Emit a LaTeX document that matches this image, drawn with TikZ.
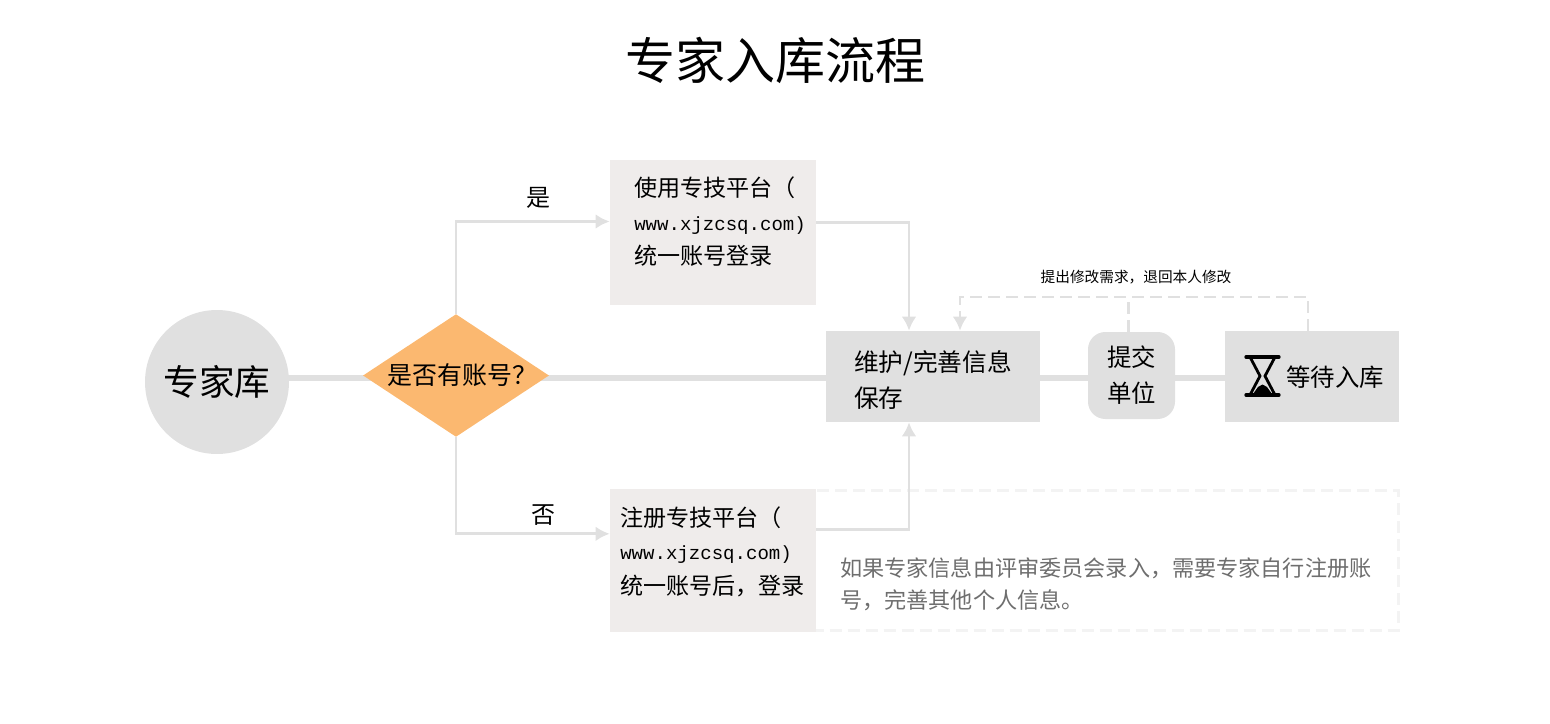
\documentclass[tikz,border=0pt]{standalone}
\usepackage{fontspec}
\setmainfont{Noto Sans CJK SC}
\newfontfamily\urlfont{Liberation Mono}
\usetikzlibrary{shapes.geometric,backgrounds,arrows.meta}
\definecolor{linegray}{HTML}{E0E0E0}
\definecolor{boxgray}{HTML}{EFECEB}
\definecolor{dashgray}{HTML}{F3F3F3}
\definecolor{noteorange}{HTML}{FBB870}
\definecolor{notetext}{HTML}{6E6E6E}
\newcommand{\sz}[2]{\fontsize{#1}{#2}\selectfont}
\newcommand{\siteurl}{\raisebox{2pt}{\urlfont\sz{14.3}{24}www.xjzcsq.com)}}
\tikzset{
  flowbox/.style={rectangle,inner sep=0pt,minimum width=#1},
  flowtext/.style={anchor=west,align=left,inner sep=0pt,font=\sz{17.3}{24}},
  mainline/.style={linegray,line width=5.2pt},
  flowtip/.style={-{Latex[length=10.5pt,width=11pt]}},
  thinline/.style={linegray,line width=2.2pt,flowtip},
  dashline/.style={linegray,line width=2.2pt,dash pattern=on 9pt off 4.5pt},
}
\begin{document}
\begin{tikzpicture}[x=0.75pt,y=-0.75pt]
  \useasboundingbox (0,0) rectangle (1550,724);
  \node[inner sep=0pt,font=\sz{37.5}{40}](title)at(775,60){专家入库流程};
  \node[circle,fill=linegray,inner sep=0pt,minimum size=108pt,font=\sz{26.7}{30}](bank)at(217,382){专家库};
  \node[diamond,shape aspect=1.5,fill=noteorange,inner sep=0pt,minimum width=139.5pt,minimum height=92pt,font=\sz{18.7}{20}](hasacc)at(456,375.5){\makebox[60pt]{\hspace*{10pt}是否有账号？}};
  \node[flowbox=154.5pt,fill=boxgray,minimum height=108.75pt](boxa)at(713,232.5){};
  \node[flowtext](boxatext)at(634,222){使用专技平台（\\[3pt]\siteurl\\统一账号登录};
  \node[rectangle,draw=dashgray,line width=2pt,dash pattern=on 9pt off 4.5pt,minimum width=440pt,minimum height=105pt](note)at(1105,560.5){};
  \node[flowbox=154.5pt,fill=boxgray,minimum height=107.25pt](boxb)at(713,560.5){};
  \node[flowtext](boxbtext)at(620,552){注册专技平台（\\[3pt]\siteurl\\统一账号后，登录};
  \node[anchor=west,align=left,inner sep=0pt,text=notetext,font=\sz{16.6}{24}](notetxt)at(840,584){如果专家信息由评审委员会录入，需要专家自行注册账\\号，完善其他个人信息。};
  \node[flowbox=160.5pt,fill=linegray,minimum height=68.25pt](boxc)at(933,376.5){};
  \node[anchor=west,align=left,inner sep=0pt,font=\sz{18.5}{27}](boxctext)at(854,380){维护/完善信息\\保存};
  \node[rectangle,rounded corners=13pt,fill=linegray,inner sep=0pt,minimum width=65.25pt,minimum height=65.25pt,align=center,font=\sz{18.3}{27}](submit)at(1131.5,375.5){提交\\单位};
  \node[flowbox=130.5pt,fill=linegray,minimum height=68.25pt](waitbox)at(1312,376.5){};
  \node[anchor=west,inner sep=0pt,font=\sz{18.3}{20}](waittext)at(1286,377){等待入库};
  \node[inner sep=0pt,font=\sz{18}{24}](yes)at(538,198){是};
  \node[inner sep=0pt,font=\sz{18}{24}](no)at(543,515){否};
  \node[inner sep=0pt,font=\sz{11}{12}](back)at(1136,277){提出修改需求，退回本人修改};
  % hourglass
  \draw[black,line width=2.5pt,line cap=round](1246,357)--(1279,357) (1246,395)--(1279,395);
  \draw[black,line width=2.1pt](1250,357)--(1260,376)--(1250,395) (1275,357)--(1265,376)--(1275,395);
  \fill[black](1253,394)--(1258,387)--(1262.5,384.5)--(1267,387)--(1272,394)--cycle;
  % connectors
  \coordinate(mainy)at(0,378);
  \begin{scope}[on background layer]
    \draw[mainline](bank|-mainy)--(hasacc|-mainy)--(boxc|-mainy)--(submit|-mainy)--(waitbox|-mainy);
  \end{scope}
  \draw[thinline](hasacc.north)|-([yshift=8.25pt]boxa.west);
  \draw[thinline](hasacc.south)|-([yshift=20pt]boxb.west);
  \draw[thinline]([yshift=7.5pt]boxa.east)-|([xshift=-18pt]boxc.north);
  \draw[thinline]([yshift=23pt]boxb.east)-|([xshift=-18pt]boxc.south);
  \coordinate(topy)at(0,297);
  \coordinate(dashend)at([xshift=20.25pt]boxc.north);
  \draw[dashline,flowtip]([xshift=-3pt]waitbox.north)|-(topy-|dashend)--(dashend);
  \coordinate(dashstart)at([xshift=-2.6pt]submit.north);
  \draw[dashline](dashstart)--(dashstart|-topy);
\end{tikzpicture}
\end{document}
